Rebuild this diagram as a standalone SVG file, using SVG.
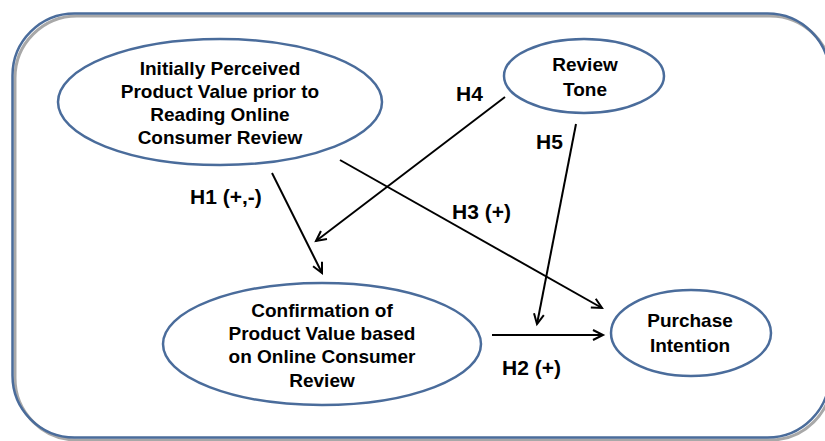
<svg xmlns="http://www.w3.org/2000/svg" width="825" height="441" viewBox="0 0 825 441">
<style>
.node ellipse{fill:#ffffff;stroke:#4a6c9b;stroke-width:2.5}
.nt{font-family:"Liberation Sans",Arial,sans-serif;font-weight:bold;font-size:19px;fill:#000;text-anchor:middle}
.lb{font-family:"Liberation Sans",Arial,sans-serif;font-weight:bold;font-size:21px;fill:#000}
.conn line{stroke:#000;stroke-width:2;marker-end:url(#arr)}
</style>
<defs>
<marker id="arr" markerWidth="14" markerHeight="14" refX="11" refY="6" orient="auto" markerUnits="userSpaceOnUse">
<path d="M1,1 L11,6 L1,11" fill="none" stroke="#000" stroke-width="2"/>
</marker>
</defs>
<rect x="0" y="0" width="825" height="441" fill="#ffffff"/>
<g id="frame">
<rect x="15" y="16" width="817" height="424" rx="62" ry="62" fill="none" stroke="#a8a8a8" stroke-width="3"/>
<rect x="12.5" y="13.5" width="817" height="424" rx="62" ry="62" fill="none" stroke="#4a6c9b" stroke-width="2.5"/>
</g>
<g id="n1" class="node">
<ellipse cx="220" cy="102" rx="162" ry="63"/>
<text class="nt" x="220" y="75">Initially Perceived</text>
<text class="nt" x="220" y="98">Product Value prior to</text>
<text class="nt" x="220" y="121">Reading Online</text>
<text class="nt" x="220" y="144">Consumer Review</text>
</g>
<g id="n2" class="node">
<ellipse cx="584" cy="76" rx="80" ry="37"/>
<text class="nt" x="585" y="71">Review</text>
<text class="nt" x="585" y="96">Tone</text>
</g>
<g id="n3" class="node">
<ellipse cx="322" cy="344" rx="159" ry="61"/>
<text class="nt" x="322" y="317">Confirmation of</text>
<text class="nt" x="322" y="340">Product Value based</text>
<text class="nt" x="322" y="363">on Online Consumer</text>
<text class="nt" x="322" y="387">Review</text>
</g>
<g id="n4" class="node">
<ellipse cx="691" cy="333" rx="80" ry="43"/>
<text class="nt" x="690" y="327">Purchase</text>
<text class="nt" x="690" y="352">Intention</text>
</g>
<g id="connectors" class="conn">
<line x1="272" y1="173" x2="322" y2="273"/>
<line x1="505" y1="97" x2="316" y2="241"/>
<line x1="340" y1="160" x2="602" y2="308"/>
<line x1="576" y1="124" x2="537" y2="324"/>
<line x1="492" y1="335" x2="603" y2="335"/>
</g>
<g id="labels">
<text class="lb" x="190" y="204">H1 (+,-)</text>
<text class="lb" x="456" y="101">H4</text>
<text class="lb" x="536" y="149">H5</text>
<text class="lb" x="452" y="219">H3 (+)</text>
<text class="lb" x="502" y="375">H2 (+)</text>
</g>
</svg>
